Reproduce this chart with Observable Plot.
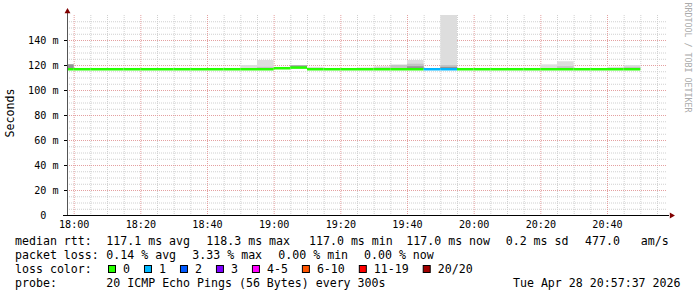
<!DOCTYPE html>
<html><head><meta charset="utf-8">
<script src="https://cdn.jsdelivr.net/npm/d3@7"></script>
<script src="https://cdn.jsdelivr.net/npm/@observablehq/plot@0.6"></script>
<style>
html,body{margin:0;padding:0;background:#fff;}
#chart svg{display:block;}
</style></head><body><div id="chart"></div>
<script>
// ---- data (5-minute bins) ----
const binStart = ["17:55","18:00","18:05","18:10","18:15","18:20","18:25","18:30","18:35","18:40",
  "18:45","18:50","18:55","19:00","19:05","19:10","19:15","19:20","19:25","19:30",
  "19:35","19:40","19:45","19:50","19:55","20:00","20:05","20:10","20:15","20:20",
  "20:25","20:30","20:35","20:40","20:45"];
const median = [117.0,117.0,117.0,117.0,117.0,117.0,117.0,117.0,117.0,117.0,
  117.0,117.0,117.0,117.8,118.3,117.0,117.0,117.0,117.0,117.0,
  117.0,117.0,117.0,117.0,117.0,117.0,117.0,117.0,117.0,117.0,
  117.0,117.0,117.0,117.0,117.0];
const lossCount = [0,0,0,0,0,0,0,0,0,0, 0,0,0,0,0,0,0,0,0,0, 0,0,1,1,0,0,0,0,0,0, 0,0,0,0,0];
const smokeMax = [120.5,117,117,117,117,117,117,117,117,117,
  117,120,124,118.5,120,118.5,117,117,118,119,
  120.5,124,117,160,117,117,117,117,117,120.5,
  123,117,117,118.5,120];
const smokeMid = [120.5,117,117,117,117,117,117,117,117,117,
  117,117.5,118.5,117.8,120,117,117,117,117,118,
  120,121,117,120,117,117,117,117,117,117,
  119,117,117,117,118.5];
const smokeInner = [120.5,117,117,117,117,117,117,117,117,117,
  117,117,117,117.8,119.5,117,117,117,117,117,
  117,119,117,118.5,117,117,117,117,117,117,
  117,117,117,117,117];
const lossLabels = ["0","1","2","3","4-5","6-10","11-19","20/20"];
const lossColors = ["#26ff00","#00b8ff","#0059ff","#7e00ff","#ff00ff","#ff5500","#ff0000","#a10000"];
const xTickLabels = ["18:00","18:20","18:40","19:00","19:20","19:40","20:00","20:20","20:40"];
const yTickValues = [0,20,40,60,80,100,120,140];
const yTitle = "Seconds";
const rttRow = ["median rtt:","117.1 ms avg","118.3 ms max","117.0 ms min","117.0 ms now","0.2 ms sd","477.0   am/s"];
const lossRow = ["packet loss:","0.14 % avg","3.33 % max","0.00 % min","0.00 % now"];
const colorRowTitle = "loss color:";
const probeRow = ["probe:","20 ICMP Echo Pings (56 Bytes) every 300s","Tue Apr 28 20:57:37 2026"];
const watermark = "RRDTOOL / TOBI OETIKER";

// ---- build ----
const parse = d3.utcParse("%H:%M");
const start = new Date(Date.UTC(1900,0,1,17,58));
const end = new Date(Date.UTC(1900,0,1,20,58));
const lossIndex = n => n <= 3 ? n : n <= 5 ? 4 : n <= 10 ? 5 : n <= 19 ? 6 : 7;
const rows = binStart.map((s,i)=>({t0: parse(s), t1: new Date(+parse(s)+300000), med: median[i],
  loss: lossCount[i], max: smokeMax[i], mid: smokeMid[i], inner: smokeInner[i]}));
const xTicks = xTickLabels.map(parse);
const minorX = d3.utcMinute.every(5).range(parse("18:00"), end).filter(d => d.getUTCMinutes() % 20 !== 0);
const minorY = d3.range(5,160,5).filter(v => v % 20 !== 0);
const majorY = yTickValues.filter(v => v > 0);

const plot = Plot.plot({
  width: 697, height: 297,
  marginLeft: 67, marginRight: 30, marginTop: 15, marginBottom: 82,
  style: {fontFamily: "'DejaVu Sans Mono', monospace", fontSize: "10.1px", color: "#000", background: "#fff", overflow: "visible"},
  x: {type: "utc", domain: [start, end]},
  y: {domain: [0,160]},
  color: {type: "identity"},
  marks: [
    Plot.ruleX(minorX, {stroke: "#d0d0d0", strokeDasharray: "1,1"}),
    Plot.ruleY(minorY, {stroke: "#d0d0d0", strokeDasharray: "1,1"}),
    Plot.ruleX(xTicks, {stroke: "#e4a0a0", strokeDasharray: "1,1"}),
    Plot.ruleY(majorY, {stroke: "#e4a0a0", strokeDasharray: "1,1"}),
    Plot.rect(rows.filter(d=>d.max>d.med), {x1:"t0", x2:"t1", y1:"med", y2:"max", fill:"#dddddd", clip:true}),
    Plot.rect(rows.filter(d=>d.mid>d.med), {x1:"t0", x2:"t1", y1:"med", y2:"mid", fill:"#c4c4c4", clip:true}),
    Plot.rect(rows.filter(d=>d.inner>d.med), {x1:"t0", x2:"t1", y1:"med", y2:"inner", fill:"#959595", clip:true}),
    Plot.ruleY(rows, {x1:"t0", x2:"t1", y:"med", stroke: d=>lossColors[lossIndex(d.loss)], strokeWidth: 2.5, clip:true}),
    Plot.axisX({ticks: xTicks, tickFormat: d3.utcFormat("%H:%M"), tickSize: 0, tickPadding: 5, label: null}),
    Plot.axisY({ticks: yTickValues, tickFormat: d => d === 0 ? "0\u00a0\u00a0" : d + " m", tickSize: 3, tickPadding: 6, label: null}),
    Plot.ruleX([start], {stroke: "#555", insetTop: -3}),
    Plot.ruleY([0], {stroke: "#000", insetLeft: -4, insetRight: -2}),
    Plot.dot([{t: start, v: 160}], {x: "t", y: "v", symbol: "triangle", r: 2.2, fill: "#800000", stroke: null, dy: -4}),
    Plot.dot([{t: end, v: 0}], {x: "t", y: "v", symbol: "triangle", r: 2.2, fill: "#800000", stroke: null, dx: 4, rotate: 90})
  ]
});
document.getElementById("chart").appendChild(plot);

// ---- texts: y title, watermark, legend ----
const svg = d3.select(plot);
svg.append("text").attr("transform","translate(13.5,113) rotate(-90)").attr("text-anchor","middle")
  .attr("font-family","DejaVu Sans Mono").attr("font-size","11.6px").attr("fill","#000").text(yTitle);
svg.append("text").attr("transform","translate(685,2.5) rotate(90)").attr("text-anchor","start")
  .attr("font-family","DejaVu Sans Mono").attr("font-size","8.3px").attr("fill","#aaa").text(watermark);

const lg = svg.append("g").attr("font-family","DejaVu Sans Mono").attr("font-size","11.6px")
  .attr("fill","#000").attr("text-anchor","start").style("white-space","pre");
const rttX = [15, 106.3, 206.3, 309, 406.3, 505.7, 585];
rttRow.forEach((s,i)=> lg.append("text").attr("x", rttX[i]).attr("y", 245).text(s));
const lossX = [15, 106.3, 192.3, 278.3, 364];
lossRow.forEach((s,i)=> lg.append("text").attr("x", lossX[i]).attr("y", 259).text(s));
lg.append("text").attr("x", 15).attr("y", 273).text(colorRowTitle);
let cx = 108;
lossLabels.forEach((s,i)=>{
  lg.append("rect").attr("x", cx+0.5).attr("y", 265.5).attr("width", 7).attr("height", 7)
    .attr("fill", lossColors[i]).attr("stroke","#000").attr("stroke-width",1);
  const t = lg.append("text").attr("x", cx+15).attr("y", 273).text(s);
  cx = cx + 15 + t.node().getComputedTextLength() + 14;
});
lg.append("text").attr("x", 15).attr("y", 287).text(probeRow[0]);
lg.append("text").attr("x", 106.3).attr("y", 287).text(probeRow[1]);
lg.append("text").attr("x", 680.5).attr("y", 287).attr("text-anchor","end").text(probeRow[2]);
</script></body></html>
